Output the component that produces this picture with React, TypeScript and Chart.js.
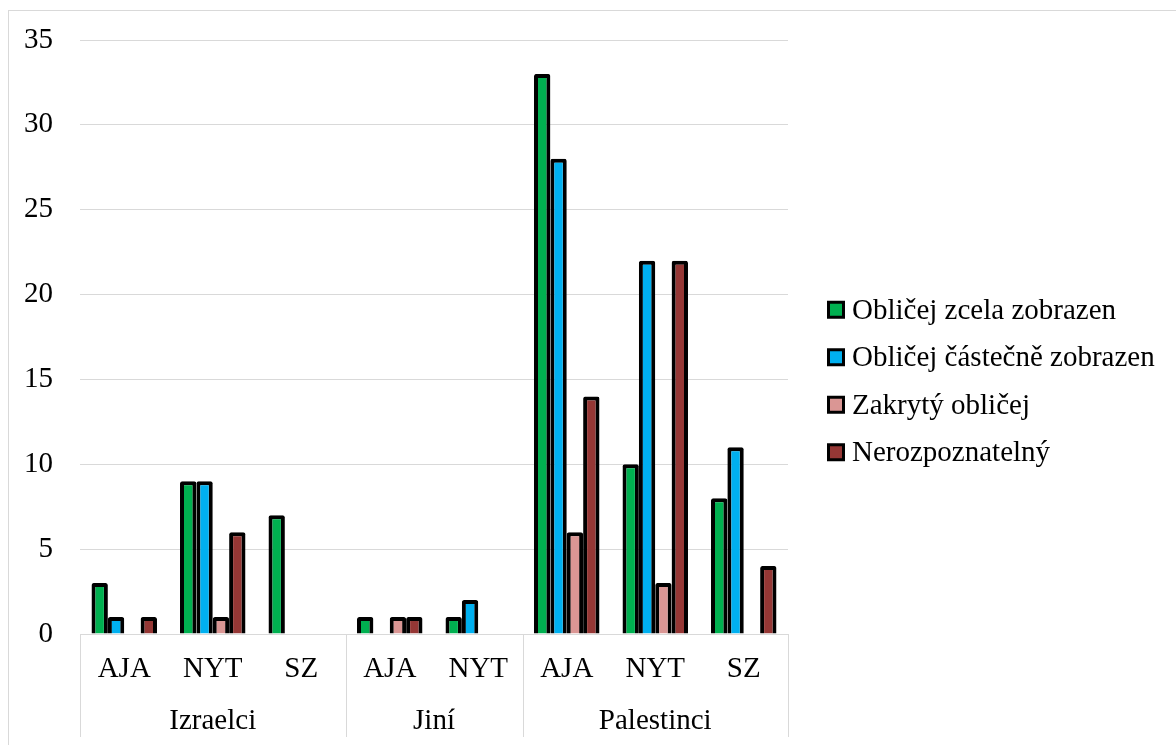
import React, { useEffect, useRef } from 'react';
import { Chart, registerables } from 'chart.js';

Chart.register(...registerables);

// ---- data ----
const categories = ['AJA', 'NYT', 'SZ', 'AJA', 'NYT', 'AJA', 'NYT', 'SZ'];
const groups = ['Izraelci', 'Jiní', 'Palestinci'];
const groupSizes = [3, 2, 3];
const seriesNames = [
  'Obličej zcela zobrazen',
  'Obličej částečně zobrazen',
  'Zakrytý obličej',
  'Nerozpoznatelný',
];
const fullyShown = [3, 9, 7, 1, 1, 33, 10, 8];
const partlyShown = [1, 9, 0, 0, 2, 28, 22, 11];
const coveredFace = [0, 1, 0, 1, 0, 6, 3, 0];
const unrecognizable = [1, 6, 0, 1, 0, 14, 22, 4];
const yMin = 0;
const yMax = 35;
const yStep = 5;

const seriesValues = [fullyShown, partlyShown, coveredFace, unrecognizable];
const seriesColors = ['#00B050', '#00B0F0', '#DA9694', '#953735'];

const FONT = '"Liberation Serif", "Times New Roman", serif';
const FONT_SIZE = 29;
const LINE_COLOR = '#d9d9d9';

const groupAxisPlugin = {
  id: 'groupAxis',
  afterDraw(chart: any) {
    const { ctx, chartArea } = chart;
    const xs = chart.scales.x;
    const catW = (xs.right - xs.left) / categories.length;
    const bottom = chartArea.bottom;
    const lineEnd = bottom + 103;
    ctx.save();
    ctx.strokeStyle = LINE_COLOR;
    ctx.lineWidth = 1;
    let idx = 0;
    const bounds: number[] = [xs.left];
    groupSizes.forEach((n) => {
      idx += n;
      bounds.push(xs.left + idx * catW);
    });
    bounds.forEach((b) => {
      const px = Math.round(b) + 0.5;
      ctx.beginPath();
      ctx.moveTo(px, bottom);
      ctx.lineTo(px, lineEnd);
      ctx.stroke();
    });
    ctx.fillStyle = '#000';
    ctx.font = `${FONT_SIZE}px ${FONT}`;
    ctx.textAlign = 'center';
    ctx.textBaseline = 'alphabetic';
    groups.forEach((g, i) => {
      const cx = (bounds[i] + bounds[i + 1]) / 2;
      ctx.fillText(g, cx, bottom + 95);
    });
    ctx.restore();
  },
};

const legendPlugin = {
  id: 'customLegend',
  afterDraw(chart: any) {
    const { ctx, chartArea } = chart;
    const x0 = chartArea.right + 39;
    const rowGap = 47.5;
    const n = chart.data.datasets.length;
    const centerY = chart.height / 2 + 3;
    ctx.save();
    ctx.font = `${FONT_SIZE}px ${FONT}`;
    ctx.textAlign = 'left';
    ctx.textBaseline = 'alphabetic';
    chart.data.datasets.forEach((ds: any, i: number) => {
      const cy = centerY + (i - (n - 1) / 2) * rowGap;
      ctx.fillStyle = '#000';
      ctx.fillRect(x0, cy - 9, 18, 18);
      ctx.fillStyle = ds.backgroundColor;
      ctx.fillRect(x0 + 3, cy - 6, 12, 12);
      ctx.fillStyle = '#000';
      ctx.fillText(ds.label, x0 + 25, cy + 9);
    });
    ctx.restore();
  },
};

export default function App() {
  const canvasRef = useRef<HTMLCanvasElement | null>(null);

  useEffect(() => {
    document.body.style.overflow = 'hidden';
    const canvas = canvasRef.current;
    if (!canvas) return;
    const chart = new Chart(canvas, {
      type: 'bar',
      data: {
        labels: categories,
        datasets: seriesNames.map((name, i) => ({
          label: name,
          data: seriesValues[i],
          backgroundColor: seriesColors[i],
          borderColor: '#000',
          borderWidth: 4,
          borderRadius: 2,
          borderSkipped: 'start',
          inflateAmount: 0,
          categoryPercentage: 0.74,
          barPercentage: 1,
        })),
      },
      options: {
        responsive: false,
        animation: false,
        devicePixelRatio: 1,
        layout: { padding: { top: 29, right: 388, bottom: 0, left: 0 } },
        plugins: {
          legend: { display: false },
          tooltip: { enabled: false },
        },
        scales: {
          x: {
            grid: { display: false, drawTicks: false },
            border: { display: true, color: LINE_COLOR, width: 1 },
            ticks: {
              color: '#000',
              font: { family: FONT, size: FONT_SIZE },
              padding: 18,
              autoSkip: false,
              maxRotation: 0,
              minRotation: 0,
            },
            afterFit(scale: any) {
              scale.height = 111;
            },
          },
          y: {
            min: yMin,
            max: yMax,
            ticks: {
              stepSize: yStep,
              color: '#000',
              font: { family: FONT, size: FONT_SIZE },
              padding: 27,
            },
            grid: { color: LINE_COLOR, lineWidth: 1, drawTicks: false },
            border: { display: false },
            afterFit(scale: any) {
              scale.width = 71;
              scale.paddingTop = 0;
              scale.paddingBottom = 0;
            },
          },
        },
      },
      plugins: [groupAxisPlugin, legendPlugin],
    });
    return () => chart.destroy();
  }, []);

  return (
    <div
      style={{
        position: 'absolute',
        left: 8,
        top: 10,
        width: 1300,
        height: 800,
        borderLeft: `1px solid ${LINE_COLOR}`,
        borderTop: `1px solid ${LINE_COLOR}`,
        background: '#fff',
      }}
    >
      <canvas ref={canvasRef} width={1167} height={734} style={{ display: 'block' }} />
    </div>
  );
}
